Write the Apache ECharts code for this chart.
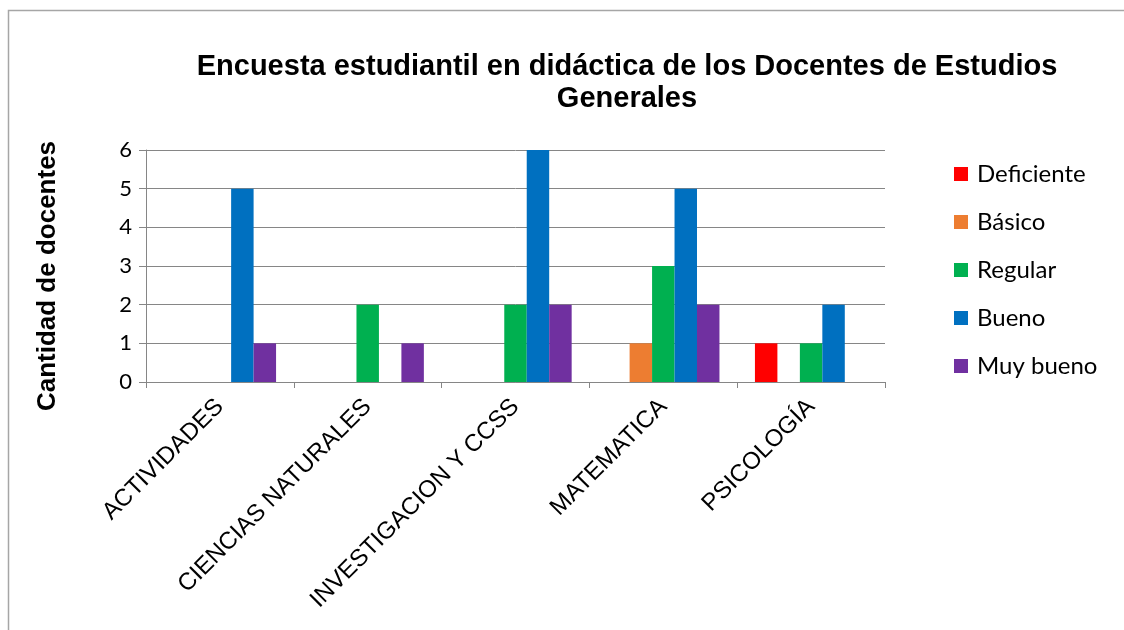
<!DOCTYPE html>
<html>
<head>
<meta charset="utf-8">
<script src="https://cdn.jsdelivr.net/npm/echarts@6/dist/echarts.min.js"></script>
<style>
  html, body { margin: 0; padding: 0; background: #fff; }
  #chart { width: 1124px; height: 630px; }
</style>
</head>
<body>
<div id="chart"></div>
<script>
var categories = ['ACTIVIDADES', 'CIENCIAS NATURALES', 'INVESTIGACION Y CCSS', 'MATEMATICA', 'PSICOLOGÍA']
var seriesNames = ['Deficiente', 'Básico', 'Regular', 'Bueno', 'Muy bueno']
var deficiente = [0, 0, 0, 0, 1]
var basico = [0, 0, 0, 1, 0]
var regular = [0, 2, 2, 3, 1]
var bueno = [5, 0, 6, 5, 2]
var muyBueno = [1, 1, 2, 2, 0]
var colors = ['#FF0000', '#ED7D31', '#00B050', '#0070C0', '#7030A0']

var myChart = echarts.init(document.getElementById('chart'))
var valueLists = [deficiente, basico, regular, bueno, muyBueno]

var series = seriesNames.map(function(name, i) {
  return {
    name: name,
    type: 'bar',
    barGap: 0,
    barCategoryGap: '24%',
    itemStyle: { color: colors[i] },
    // ceros no se dibujan
    data: valueLists[i].map(function(v) { return v === 0 ? '-' : v })
  }
})

var option = {
  animation: false,
  color: colors,
  graphic: [
    {
      type: 'rect',
      shape: { x: 8.5, y: 10.5, width: 1200, height: 700 },
      style: { fill: 'none', stroke: '#A6A6A6', lineWidth: 1.5 },
      silent: true
    },
    {
      type: 'text',
      x: 627,
      y: 51,
      style: {
        text: 'Encuesta estudiantil en didáctica de los Docentes de Estudios\nGenerales',
        align: 'center',
        font: 'bold 29px "Liberation Sans", Arial',
        fill: '#000',
        lineHeight: 32
      }
    }
  ],
  legend: {
    orient: 'vertical',
    left: 949,
    top: 157,
    itemWidth: 14,
    itemHeight: 14,
    itemGap: 24,
    icon: 'rect',
    textStyle: { fontFamily: 'Lato, "Open Sans", sans-serif', fontSize: 24, color: '#000', padding: [0, 0, 0, 4] },
    data: seriesNames
  },
  grid: { left: 146, right: 239, top: 150, bottom: 248 },
  xAxis: {
    type: 'category',
    data: categories,
    axisLine: { lineStyle: { color: '#868686', width: 1 } },
    axisTick: { show: true, length: 6, lineStyle: { color: '#868686' } },
    axisLabel: {
      rotate: 45,
      margin: 21,
      interval: 0,
      color: '#000',
      fontFamily: '"Liberation Sans", Arial',
      fontSize: 24
    }
  },
  yAxis: {
    type: 'value',
    min: 0,
    max: 6,
    interval: 1,
    name: 'Cantidad de docentes',
    nameLocation: 'middle',
    nameGap: 85,
    nameTextStyle: { fontFamily: '"Liberation Sans", Arial', fontWeight: 'bold', fontSize: 26, color: '#000', padding: [0, 20, 0, 0] },
    axisLine: { show: true, lineStyle: { color: '#868686' } },
    axisTick: { show: true, length: 7, lineStyle: { color: '#868686' } },
    axisLabel: { color: '#000', fontFamily: 'Lato, "Open Sans", sans-serif', fontSize: 22, margin: 14 },
    splitLine: { show: true, lineStyle: { color: '#868686' } }
  },
  series: series
}
myChart.setOption(option)
</script>
</body>
</html>
